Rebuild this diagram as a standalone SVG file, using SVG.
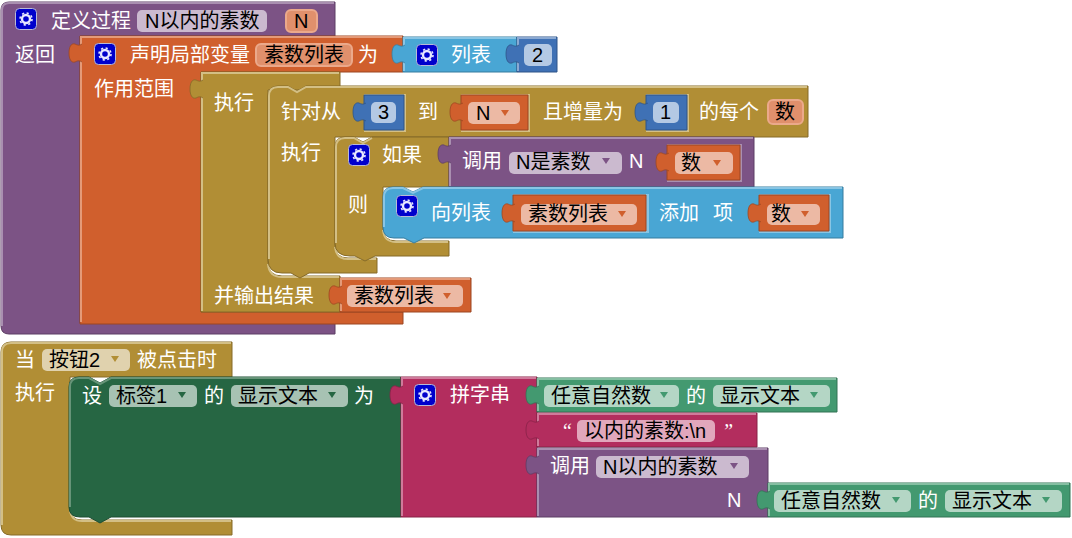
<svg xmlns="http://www.w3.org/2000/svg" xmlns:xlink="http://www.w3.org/1999/xlink" width="1072" height="538" viewBox="0 0 1072 538">
<style>
text{font-family:"Liberation Sans","Noto Sans CJK SC",sans-serif;font-size:20px}
.t{fill:#fff}
.k{fill:#000}
.q{font-family:"Liberation Serif",serif;font-style:italic}
.hl,.sh{fill:none;stroke-width:2}
.pu{fill:#7c5385;stroke:#5d3e64}.pu-l{stroke:#a98fb0}
.or{fill:#d05f2d;stroke:#9c4722}.or-l{stroke:#e49a78}
.go{fill:#b18e35;stroke:#856a28}.go-l{stroke:#d3bf85}
.bl{fill:#49a6d4;stroke:#377d9f}.bl-l{stroke:#88c5e4}
.db{fill:#3f71b5;stroke:#2f5588}.db-l{stroke:#8ba9d2}
.dg{fill:#266643;stroke:#1d4d32}.dg-l{stroke:#679478}
.gr{fill:#439970;stroke:#327354}.gr-l{stroke:#85bfa2}
.pk{fill:#b32d5e;stroke:#862247}.pk-l{stroke:#d07a9b}
.fpu{fill:#cbbacf}
.for{fill:#ecb9a4}.fn{fill:#e0906c;stroke:#eba98b;stroke-width:2}
.fbl{fill:#b4c9e4}.fgo{fill:#e0d2ae}.fdg{fill:#a7c2b3}.fgr{fill:#b4d6c5}.fpk{fill:#e1a7bc}
.inset{fill:#d3bf85}
.a{stroke:none}
</style>
<defs>
<path id="tab" d="M2,0C-1,2 -3,1 -5,0C-9,-1 -11,3 -11,9C-11,15 -9,19 -5,18C-3,17 -1,16 2,18" stroke-width="0.8"/>
<g id="gear">
<rect x="0.5" y="0.5" width="21" height="21" rx="4" fill="#0000cc" stroke="#b9b9d6"/>
<circle cx="11" cy="11" r="4" fill="none" stroke="#e8e8ff" stroke-width="2.4"/>
<circle cx="11" cy="11" r="6" fill="none" stroke="#e8e8ff" stroke-width="1.6" stroke-dasharray="2.2 2.5"/>
</g>
<path id="ar" d="M-4,0H4L0,6Z"/>
</defs>

<g id="procedure">
<path class="pu" d="M1,10Q1,2 9,2H335V36H80V323H335V334H9Q1,334 1,326Z"/>
<path class="hl pu-l" d="M2,326V10Q2,3 9,3H334"/>
<use xlink:href="#gear" x="15" y="8"/>
<text class="t" x="51" y="28">定义过程</text>
<rect class="fpu" x="137" y="10" width="130" height="22" rx="5"/>
<text class="k" x="145" y="28">N以内的素数</text>
<rect class="fn" x="286" y="10" width="31" height="22" rx="5"/>
<text class="k" x="294" y="28">N</text>
<text class="t" x="15" y="62">返回</text>
</g>

<g id="local-var">
<path class="or" d="M80,36H403V72H201V312H403V324H80Z"/>
<path class="hl or-l" d="M81,322V37H402"/>
<use xlink:href="#tab" class="or" x="80" y="44"/>
<use xlink:href="#gear" x="94" y="43"/>
<text class="t" x="130" y="62">声明局部变量</text>
<rect class="fn" x="256" y="44" width="96" height="22" rx="5"/>
<text class="k" x="264" y="62">素数列表</text>
<text class="t" x="358" y="62">为</text>
<text class="t" x="94" y="96">作用范围</text>
</g>

<g id="list">
<path class="bl" d="M403,37H517V72H403Z"/>
<path class="hl bl-l" d="M404,71V38H516"/>
<use xlink:href="#tab" class="bl" x="403" y="45"/>
<use xlink:href="#gear" x="416" y="44"/>
<text class="t" x="451" y="62">列表</text>
<path class="db" d="M517,37H557V72H517Z"/>
<path class="hl db-l" d="M518,71V38H556"/>
<use xlink:href="#tab" class="db" x="517" y="45"/>
<rect class="fbl" x="524" y="44" width="28" height="22" rx="5"/>
<text class="k" x="532" y="62">2</text>
</g>

<g id="do-result">
<path class="go" d="M201,72H340V90H268V262Q268,276 282,276H340V312H201Z"/>
<path class="hl go-l" d="M202,311V73H339M268,264Q269,277 282,277H339"/>
<use xlink:href="#tab" class="go" x="201" y="80"/>
<text class="t" x="214" y="110">执行</text>
<text class="t" x="214" y="303">并输出结果</text>
</g>

<g id="result-var">
<path class="or" d="M340,278H471V312H340Z"/>
<path class="hl or-l" d="M341,311V279H470"/>
<use xlink:href="#tab" class="or" x="340" y="286"/>
<rect class="for" x="347" y="285" width="116" height="22" rx="5"/>
<text class="k" x="354" y="303">素数列表</text>
<use xlink:href="#ar" class="or a" x="447" y="293"/>
</g>

<g id="for-range">
<path class="go" d="M278,86H288l9,5 9,-5H808V137H335V245Q335,258 348,258H377V273H309l-9,5 -9,-5H282Q268,273 268,259V96Q268,86 278,86Z"/>
<path class="hl go-l" d="M269,259V96Q269,87 278,87H288l9,5 9,-5H807M335,247Q336,259 348,259H376"/>
<text class="t" x="281" y="119">针对从</text>
<text class="t" x="418" y="119">到</text>
<text class="t" x="543" y="119">且增量为</text>
<text class="t" x="699" y="119">的每个</text>
<rect class="fn" x="768" y="100" width="35" height="24" rx="5"/>
<text class="k" x="775" y="119">数</text>
<text class="t" x="281" y="160">执行</text>
<rect class="inset" x="364" y="94" width="42" height="38"/>
<path class="db" d="M364,95H404V130H364Z"/>
<use xlink:href="#tab" class="db" x="364" y="103"/>
<rect class="fbl" x="371" y="102" width="25" height="21" rx="5"/>
<text class="k" x="378" y="119">3</text>
<rect class="inset" x="461" y="94" width="69" height="38"/>
<path class="or" d="M461,95H528V130H461Z"/>
<use xlink:href="#tab" class="or" x="461" y="103"/>
<rect class="for" x="468" y="102" width="52" height="22" rx="5"/>
<text class="k" x="476" y="120">N</text>
<use xlink:href="#ar" class="or a" x="505" y="110"/>
<rect class="inset" x="646" y="94" width="43" height="38"/>
<path class="db" d="M646,95H687V130H646Z"/>
<use xlink:href="#tab" class="db" x="646" y="103"/>
<rect class="fbl" x="653" y="102" width="26" height="21" rx="5"/>
<text class="k" x="660" y="119">1</text>
</g>

<g id="if">
<path class="go" d="M345,137H354l9,5 9,-5H449V187H383V228Q383,241 396,241H449V256H375l-10,5 -10,-5H350Q335,256 335,243V147Q335,137 345,137Z"/>
<path class="hl go-l" d="M336,243V147Q336,138 345,138H354l9,5 9,-5M383,230Q384,242 396,242H448"/>
<use xlink:href="#gear" x="348" y="144"/>
<text class="t" x="382" y="162">如果</text>
<text class="t" x="348" y="212">则</text>
</g>

<g id="call-prime">
<path class="pu" d="M449,137H754V187H449Z"/>
<path class="hl pu-l" d="M450,186V138H753"/>
<use xlink:href="#tab" class="pu" x="449" y="145"/>
<text class="t" x="462" y="168">调用</text>
<rect class="fpu" x="509" y="152" width="113" height="22" rx="5"/>
<text class="k" x="516" y="169">N是素数</text>
<use xlink:href="#ar" class="pu a" x="606" y="158"/>
<text class="t" x="629" y="168">N</text>
<rect x="667" y="144" width="75" height="38" fill="#a98fb0"/>
<path class="or" d="M667,145H740V180H667Z"/>
<use xlink:href="#tab" class="or" x="667" y="153"/>
<rect class="for" x="675" y="152" width="58" height="22" rx="5"/>
<text class="k" x="681" y="170">数</text>
<use xlink:href="#ar" class="or a" x="717" y="160"/>
</g>

<g id="add-to-list">
<path class="bl" d="M393,187H403l10,5 10,-5H843V238H424l-10,5 -10,-5H394Q383,238 383,227V197Q383,187 393,187Z"/>
<path class="hl bl-l" d="M384,227V197Q384,188 393,188H403l10,5 10,-5H842"/>
<use xlink:href="#gear" x="396" y="195"/>
<text class="t" x="431" y="220">向列表</text>
<rect x="513" y="194" width="136" height="39" fill="#88c5e4"/>
<path class="or" d="M513,195H646V231H513Z"/>
<use xlink:href="#tab" class="or" x="513" y="204"/>
<rect class="for" x="521" y="204" width="116" height="21" rx="5"/>
<text class="k" x="528" y="221">素数列表</text>
<use xlink:href="#ar" class="or a" x="622" y="211"/>
<text class="t" x="659" y="220">添加</text>
<text class="t" x="713" y="220">项</text>
<rect x="759" y="194" width="72" height="39" fill="#88c5e4"/>
<path class="or" d="M759,195H829V231H759Z"/>
<use xlink:href="#tab" class="or" x="759" y="204"/>
<rect class="for" x="767" y="204" width="53" height="21" rx="5"/>
<text class="k" x="771" y="221">数</text>
<use xlink:href="#ar" class="or a" x="805" y="211"/>
</g>

<g id="when-clicked">
<path class="go" d="M1,352Q1,342 11,342H232V377H70V508Q70,520 82,520H232V535H11Q1,535 1,525Z"/>
<path class="hl go-l" d="M2,525V352Q2,343 11,343H231M70,510Q71,521 82,521H231"/>
<text class="t" x="15" y="367">当</text>
<rect class="fgo" x="42" y="349" width="88" height="22" rx="5"/>
<text class="k" x="49" y="367">按钮2</text>
<use xlink:href="#ar" class="go a" x="115" y="356"/>
<text class="t" x="137" y="367">被点击时</text>
<text class="t" x="15" y="400">执行</text>
</g>

<g id="set-label">
<path class="dg" d="M79,377H89l11,6 11,-6H401V517H111l-11,6 -11,-6H80Q69,517 69,507V387Q69,377 79,377Z"/>
<path class="hl dg-l" d="M70,507V387Q70,378 79,378H89l11,6 11,-6H400"/>
<text class="t" x="82" y="403">设</text>
<rect class="fdg" x="109" y="385" width="88" height="22" rx="5"/>
<text class="k" x="116" y="403">标签1</text>
<use xlink:href="#ar" class="dg a" x="182" y="392"/>
<text class="t" x="204" y="403">的</text>
<rect class="fdg" x="231" y="385" width="117" height="22" rx="5"/>
<text class="k" x="238" y="403">显示文本</text>
<use xlink:href="#ar" class="dg a" x="332" y="392"/>
<text class="t" x="354" y="403">为</text>
</g>

<g id="join">
<path class="pk" d="M401,377H537V517H401Z"/>
<path class="hl pk-l" d="M402,516V378H536"/>
<use xlink:href="#tab" class="pk" x="401" y="386"/>
<use xlink:href="#gear" x="414" y="384"/>
<text class="t" x="450" y="402">拼字串</text>
</g>

<g id="get-input">
<path class="gr" d="M537,378H837V412H537Z"/>
<path class="hl gr-l" d="M538,411V379H836"/>
<use xlink:href="#tab" class="gr" x="537" y="386"/>
<rect class="fgr" x="544" y="385" width="135" height="22" rx="5"/>
<text class="k" x="551" y="403">任意自然数</text>
<use xlink:href="#ar" class="gr a" x="664" y="392"/>
<text class="t" x="686" y="403">的</text>
<rect class="fgr" x="713" y="385" width="117" height="22" rx="5"/>
<text class="k" x="720" y="403">显示文本</text>
<use xlink:href="#ar" class="gr a" x="814" y="392"/>
</g>

<g id="string">
<path class="pk" d="M537,413H757V447H537Z"/>
<path class="hl pk-l" d="M538,446V414H756"/>
<use xlink:href="#tab" class="pk" x="537" y="421"/>
<text class="t q" x="561" y="438">“</text>
<rect class="fpk" x="577" y="420" width="138" height="22" rx="5"/>
<text class="k" x="584" y="438">以内的素数:\n</text>
<text class="t q" x="722" y="438">”</text>
</g>

<g id="call-primes">
<path class="pu" d="M537,448H768V517H537Z"/>
<path class="hl pu-l" d="M538,516V449H767"/>
<use xlink:href="#tab" class="pu" x="537" y="456"/>
<text class="t" x="550" y="473">调用</text>
<rect class="fpu" x="596" y="456" width="153" height="22" rx="5"/>
<text class="k" x="603" y="474">N以内的素数</text>
<use xlink:href="#ar" class="pu a" x="734" y="463"/>
<text class="t" x="727" y="507">N</text>
</g>

<g id="get-input-2">
<path class="gr" d="M768,483H1070V517H768Z"/>
<path class="hl gr-l" d="M769,516V484H1069"/>
<use xlink:href="#tab" class="gr" x="768" y="491"/>
<rect class="fgr" x="774" y="490" width="137" height="22" rx="5"/>
<text class="k" x="781" y="508">任意自然数</text>
<use xlink:href="#ar" class="gr a" x="896" y="497"/>
<text class="t" x="918" y="508">的</text>
<rect class="fgr" x="945" y="490" width="117" height="22" rx="5"/>
<text class="k" x="952" y="508">显示文本</text>
<use xlink:href="#ar" class="gr a" x="1046" y="497"/>
</g>
</svg>
